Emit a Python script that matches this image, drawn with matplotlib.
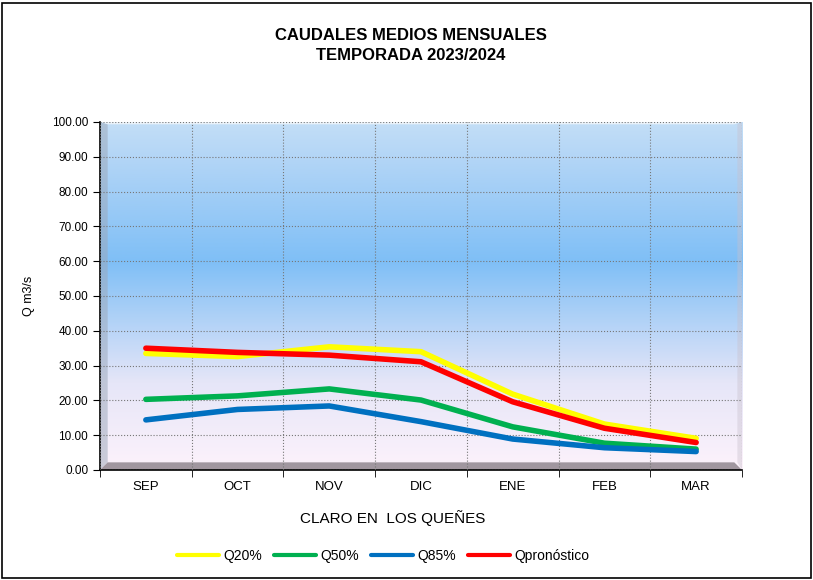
import numpy as np
import matplotlib.pyplot as plt
from matplotlib.colors import LinearSegmentedColormap
from matplotlib.patches import Rectangle, Polygon

plt.rcParams['font.family'] = ['Liberation Sans', 'DejaVu Sans']

meses = ['SEP', 'OCT', 'NOV', 'DIC', 'ENE', 'FEB', 'MAR']
q20 = [33.5, 32.6, 35.4, 34.0, 21.8, 13.2, 9.1]
q50 = [20.3, 21.3, 23.3, 20.1, 12.4, 7.7, 6.0]
q85 = [14.4, 17.4, 18.4, 13.9, 8.9, 6.4, 5.3]
qpron = [35.0, 33.8, 33.0, 31.1, 19.6, 12.0, 7.9]

fig = plt.figure(figsize=(8.13, 5.8), dpi=100)
# marco de la figura
fig.patches.append(Rectangle((0.003, 0.003), 0.994, 0.992, transform=fig.transFigure,
                             fill=False, edgecolor='black', linewidth=1.2))

ax = fig.add_axes([100/813, 1 - 470/580, 642/813, 348/580])
x = np.arange(len(meses))
ax.set_xlim(-0.5, len(meses) - 0.5)
ax.set_ylim(0, 100)

# fondo degradado
cmap = LinearSegmentedColormap.from_list('fondo', [
    (0.0, '#fdf2fb'), (0.25, '#e6e6f8'), (0.6, '#7fbff6'), (0.88, '#b0d4f6'), (1.0, '#c3def7')])
grad = np.linspace(0, 1, 256).reshape(-1, 1)
ax.imshow(grad, extent=[0, 1, 0, 1], transform=ax.transAxes, origin='lower',
          cmap=cmap, aspect='auto', zorder=0)

# bisel
b = 0.012
by = 0.022
ax.add_patch(Polygon([(0, 0), (b, by), (b, 1 - by * 0.3), (0, 1)], transform=ax.transAxes,
                     facecolor='#9aa6b8', alpha=0.5, edgecolor='none', zorder=1))
ax.add_patch(Polygon([(0, 0), (1, 0), (1 - b, by), (b, by)], transform=ax.transAxes,
                     facecolor='#8a7f88', alpha=0.8, edgecolor='none', zorder=1))
ax.add_patch(Polygon([(1, 0), (1, 1), (1 - b * 0.6, 1 - by * 0.3), (1 - b * 0.6, by)], transform=ax.transAxes,
                     facecolor='#c8c0cc', alpha=0.4, edgecolor='none', zorder=1))
ax.add_patch(Polygon([(0, 1), (1, 1), (1 - b, 1 - by * 0.3), (b, 1 - by * 0.3)], transform=ax.transAxes,
                     facecolor='#ffffff', alpha=0.7, edgecolor='none', zorder=1))

ax.set_yticks(np.arange(0, 101, 10))
ax.set_yticklabels([f'{v:.2f}' for v in np.arange(0, 101, 10)], fontsize=8.5)
ax.set_xticks(x)
ax.set_xticklabels(meses, fontsize=9.5)
ax.set_xticks(np.arange(-0.5, len(meses), 1), minor=True)
ax.tick_params(axis='x', which='major', length=0, pad=8)
ax.tick_params(axis='x', which='minor', length=5, direction='out')
ax.tick_params(axis='y', length=5, direction='out')
ax.grid(True, which='minor', axis='x', color='#777777', linestyle=':', linewidth=0.8, zorder=2)
ax.grid(True, which='major', axis='y', color='#777777', linestyle=':', linewidth=0.8, zorder=2)
ax.set_axisbelow(False)

for s in ['top', 'right']:
    ax.spines[s].set_visible(False)
ax.spines['left'].set_linewidth(1.2)
ax.spines['bottom'].set_linewidth(1.2)

ax.plot(x, q20, color='#ffff00', linewidth=4, label='Q20%', zorder=3, solid_capstyle='round')
ax.plot(x, q50, color='#00b050', linewidth=4, label='Q50%', zorder=3, solid_capstyle='round')
ax.plot(x, q85, color='#0070c0', linewidth=4, label='Q85%', zorder=3, solid_capstyle='round')
ax.plot(x, qpron, color='#ff0000', linewidth=4, label='Qpronóstico', zorder=4, solid_capstyle='round')

ax.set_ylabel('Q m3/s', fontsize=9, labelpad=12)
fig.text(393/813, 1 - 518/580, 'CLARO EN  LOS QUEÑES', ha='center', va='center', fontsize=11)

fig.text(0.505, 1 - 35/580, 'CAUDALES MEDIOS MENSUALES', ha='center', va='center',
         fontsize=12, fontweight='bold')
fig.text(0.505, 1 - 55/580, 'TEMPORADA 2023/2024', ha='center', va='center',
         fontsize=12, fontweight='bold')

leg = fig.legend(loc='center', bbox_to_anchor=(383/813, 1 - 556/580), ncol=4, frameon=False,
                 fontsize=10, handlelength=3.0, handletextpad=0.3, columnspacing=0.9)
for h in leg.legend_handles:
    h.set_linewidth(3)

fig.savefig('out.png', dpi=100)
